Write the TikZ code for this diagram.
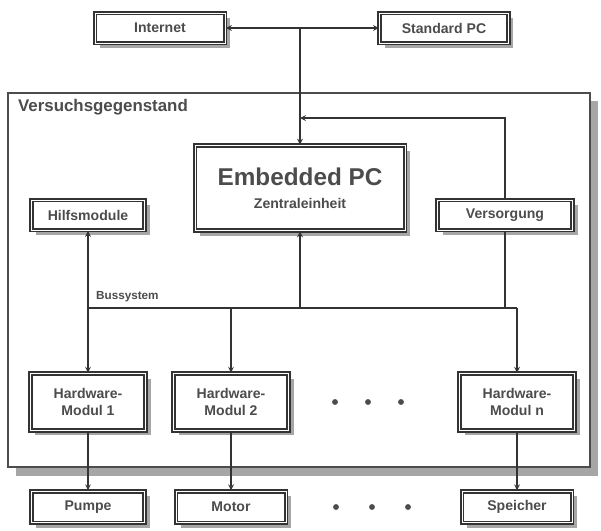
\documentclass[tikz,border=0pt]{standalone}
\usepackage{fontspec}
\setsansfont{Liberation Sans}
\usetikzlibrary{shadows}
\tikzset{
  kasten/.style={draw=black!80, line width=1.6pt, double=white, double distance=0.8pt,
    fill=white, inner sep=2pt, align=center, text=black!70,
    font=\sffamily\bfseries\large,
    drop shadow={shadow xshift=0.15cm, shadow yshift=-0.15cm, fill=black!35, opacity=1}},
  leitung/.style={line width=1.2pt, draw=black!80},
}
\begin{document}
\begin{tikzpicture}[x=0.03cm,y=-0.03cm,>=stealth]
\useasboundingbox (0,0) rectangle (601,530);
\fill[black!35] (16,101) rectangle (598,476);
\draw[line width=2.5pt,black!70,fill=white] (8,93) rectangle (590,467);
\node[anchor=west,font=\sffamily\bfseries\Large,text=black!70] (vg) at (14,107) {Versuchsgegenstand};
\node[kasten,minimum width=3.9cm,minimum height=0.9cm] (inet) at (160,28) {Internet};
\node[kasten,minimum width=3.85cm,minimum height=0.9cm] (stdpc) at (444,28) {Standard PC};
\node[kasten,minimum width=6.3cm,minimum height=2.55cm] (epc) at (300,188) {{\huge Embedded PC}\\[6pt]{\large Zentraleinheit}};
\node[kasten,minimum width=3.4cm,minimum height=0.9cm] (hilf) at (88,215) {Hilfsmodule};
\node[kasten,minimum width=4.05cm,minimum height=0.9cm] (vers) at (505,215) {Versorgung};
\node[kasten,minimum width=3.45cm,minimum height=1.7cm] (mod1) at (88,402) {Hardware-\\Modul 1};
\node[kasten,minimum width=3.45cm,minimum height=1.7cm] (mod2) at (231,402) {Hardware-\\Modul 2};
\node[kasten,minimum width=3.45cm,minimum height=1.7cm] (modn) at (517,402) {Hardware-\\Modul n};
\node[kasten,minimum width=3.4cm,minimum height=0.95cm] (pumpe) at (88,507) {Pumpe};
\node[kasten,minimum width=3.3cm,minimum height=0.95cm] (motor) at (231,507) {Motor};
\node[kasten,minimum width=3.3cm,minimum height=0.95cm] (spei) at (517,507) {Speicher};
\foreach \x in {335,368,401} \fill[black!70] (\x,402) circle (2.5pt);
\foreach \x in {336,372,408} \fill[black!70] (\x,507) circle (2.5pt);
\coordinate (kn) at (300,28);
\coordinate (rk) at (505,118);
\coordinate (bl) at (88,308);
\coordinate (br) at (517,308);
\draw[leitung,<->] (inet) -- (stdpc);
\draw[leitung,->] (kn) -- (epc);
\draw[leitung,->] (vers) -- (rk) -- (kn |- rk);
\draw[leitung] (bl) -- (br);
\node[anchor=south west,font=\sffamily\bfseries,text=black!70] (bs) at (92,306) {Bussystem};
\draw[leitung,->] (bl) -- (hilf);
\draw[leitung,->] (bl) -- (mod1);
\draw[leitung,->] (epc |- bl) -- (epc);
\draw[leitung,->] (mod2 |- bl) -- (mod2);
\draw[leitung] (vers) -- (vers |- bl);
\draw[leitung,->] (br) -- (modn);
\draw[leitung,->] (mod1) -- (pumpe);
\draw[leitung,->] (mod2) -- (motor);
\draw[leitung,->] (modn) -- (spei);
\end{tikzpicture}
\end{document}
